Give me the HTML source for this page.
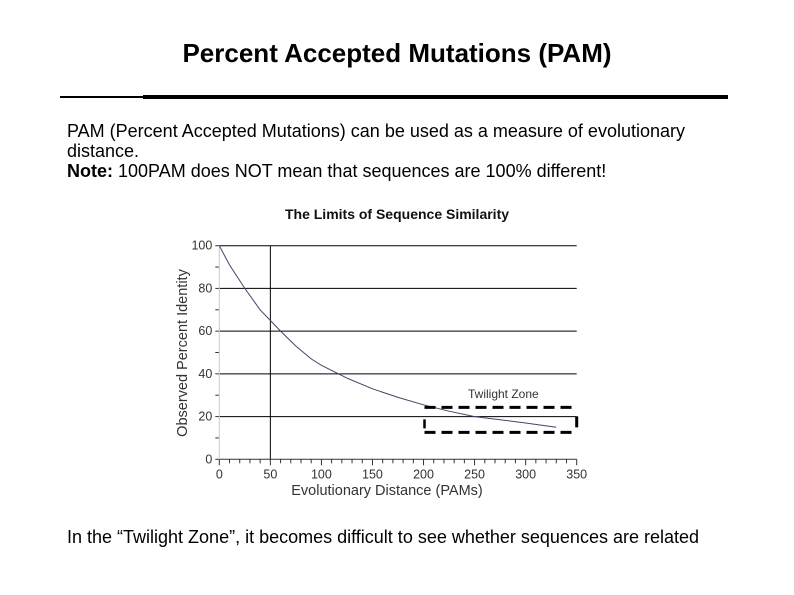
<!DOCTYPE html>
<html><head><meta charset="utf-8"><style>
body{margin:0;background:#fff;width:794px;height:595px;overflow:hidden;font-family:"Liberation Sans",Arial,sans-serif;position:relative}
.t{position:absolute;color:#000}
</style></head><body>
<div class="t" style="left:0;width:794px;top:38px;text-align:center;font-size:26px;font-weight:bold">Percent Accepted Mutations (PAM)</div>
<div style="position:absolute;left:60px;top:96px;width:84px;height:2px;background:#000"></div>
<div style="position:absolute;left:143px;top:95px;width:585px;height:4px;background:#000"></div>
<div class="t" style="left:67px;top:121px;font-size:18px;line-height:20px;width:640px">PAM (Percent Accepted Mutations) can be used as a measure of evolutionary distance.<br><b>Note:</b> 100PAM does NOT mean that sequences are 100% different!</div>
<div class="t" style="left:67px;top:527px;font-size:18px">In the “Twilight Zone”, it becomes difficult to see whether sequences are related</div>
<svg id="chart" width="794" height="595" style="position:absolute;left:0;top:0" font-family="Liberation Sans, Arial, sans-serif">
<text x="397" y="219" text-anchor="middle" font-size="14" font-weight="bold" fill="#111">The Limits of Sequence Similarity</text>
<g id="grid"></g><g id="ticks"></g>
<text x="387" y="495" text-anchor="middle" font-size="14.5" fill="#333">Evolutionary Distance (PAMs)</text>
<text transform="translate(187,353) rotate(-90)" text-anchor="middle" font-size="14.5" fill="#333">Observed Percent Identity</text>
<path id="curve" fill="none" stroke="#44446a" stroke-width="1"/>
<text x="468" y="398" font-size="12" fill="#333">Twilight Zone</text>
<g id="box"></g>
</svg>
<script>
const xTicks=[0,50,100,150,200,250,300,350];
const yTicks=[0,20,40,60,80,100];
const yTickLabels=["0","20","40","60","80","100"];
const pams=[0,10,25,40,50,60,75,90,100,125,150,175,200,225,250,275,300,330];
const identity=[100,91,80,70,65,60,53,47,44,38,33,29,25.5,22.5,20,18.5,17,15];
const zone=[199,350,12.6,24.3];
const X=v=>219.3+v*(576.7-219.3)/350;
const Y=v=>459.3-v*(459.3-245.7)/100;
const NS="http://www.w3.org/2000/svg";
function mk(p,t,a){const e=document.createElementNS(NS,t);for(const k in a)e.setAttribute(k,a[k]);p.appendChild(e);return e;}
const g=document.getElementById('grid'),tk=document.getElementById('ticks');
yTicks.forEach((v,i)=>{
 if(v>0){const l=mk(g,'line',{x1:X(0),x2:X(350),y1:Y(v),y2:Y(v),stroke:'#000','stroke-width':1});
 
 }
 const t=mk(tk,'text',{x:X(0)-7,y:Y(v)+4,'text-anchor':'end','font-size':12.5,fill:'#333'});t.textContent=yTickLabels[i];
 
 
});
for(let v=0;v<=100;v+=10){mk(tk,'line',{x1:X(0)-4,x2:X(0),y1:Y(v),y2:Y(v),stroke:'#333'});}
for(let v=0;v<=350;v+=10){mk(tk,'line',{x1:X(v),x2:X(v),y1:Y(0),y2:Y(0)+(v%50?4:6),stroke:'#333'});}
mk(tk,'line',{x1:X(0),x2:X(350),y1:Y(0),y2:Y(0),stroke:'#333'});
mk(tk,'line',{x1:X(0),x2:X(0),y1:Y(0),y2:Y(100),stroke:'#ccc'});
const vl=mk(g,'line',{x1:X(50),x2:X(50),y1:Y(0),y2:Y(100),stroke:'#000'});


xTicks.forEach(v=>{const t=mk(tk,'text',{x:X(v),y:Y(0)+19,'text-anchor':'middle','font-size':12.5,fill:'#333'});t.textContent=v;
 
 });
let d='';pams.forEach((p,i)=>{d+=(i?'L':'M')+X(p).toFixed(1)+' '+Y(identity[i]).toFixed(1);});
document.getElementById('curve').setAttribute('d',d);
const b=document.getElementById('box');
const bx1=X(zone[0])+2,bx2=X(zone[1]),by1=Y(zone[3]),by2=Y(zone[2]);
mk(b,'line',{x1:bx1,x2:bx2,y1:by1,y2:by1,stroke:'#000','stroke-width':3,'stroke-dasharray':'11 6'});
mk(b,'line',{x1:bx1,x2:bx2,y1:by2,y2:by2,stroke:'#000','stroke-width':3,'stroke-dasharray':'11 6'});
mk(b,'line',{x1:bx1,x2:bx1,y1:by1+4,y2:by2-4,stroke:'#000','stroke-width':2.5,'stroke-dasharray':'0 8 12 20'});
mk(b,'line',{x1:bx2,x2:bx2,y1:by1+3,y2:by2-5,stroke:'#000','stroke-width':3,'stroke-dasharray':'0 6 11 20'});


</script>
</body></html>
